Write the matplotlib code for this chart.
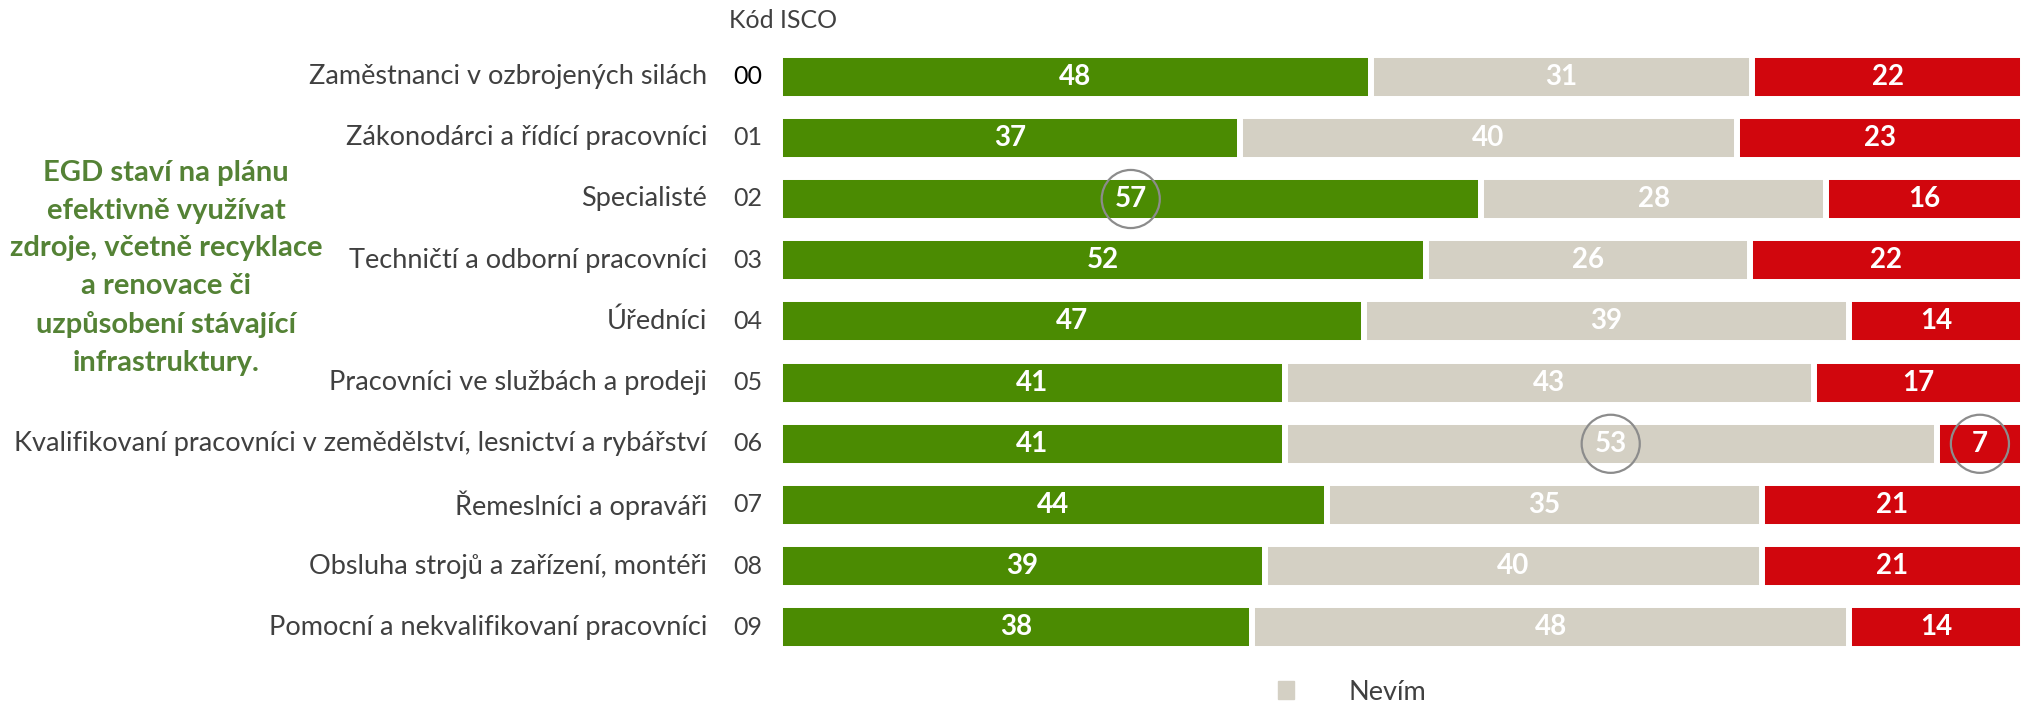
import numpy as np
import matplotlib.pyplot as plt
from matplotlib.patches import Patch
from matplotlib.transforms import blended_transform_factory

plt.rcParams['font.family'] = ['Lato', 'DejaVu Sans']

categories = ['Zaměstnanci v ozbrojených silách',
              'Zákonodárci a řídící pracovníci',
              'Specialisté',
              'Techničtí a odborní pracovníci',
              'Úředníci',
              'Pracovníci ve službách a prodeji',
              'Kvalifikovaní pracovníci v zemědělství, lesnictví a rybářství',
              'Řemeslníci a opraváři',
              'Obsluha strojů a zařízení, montéři',
              'Pomocní a nekvalifikovaní pracovníci']
codes = ['00', '01', '02', '03', '04', '05', '06', '07', '08', '09']
ano = [48, 37, 57, 52, 47, 41, 41, 44, 39, 38]
nevim = [31, 40, 28, 26, 39, 43, 53, 35, 40, 48]
ne = [22, 23, 16, 22, 14, 17, 7, 21, 21, 14]
# (row, series) cells circled in the chart
highlights = [(2, 0), (6, 1), (6, 2)]

series = [ano, nevim, ne]
colors = ['#4b8b02', '#d4d0c4', '#d1060d']
txt_grey = '#404040'

fig = plt.figure(figsize=(20.23, 7.06), dpi=100)
ax = fig.add_axes([780 / 2023, 48 / 706, 1 - 780 / 2023, 612 / 706])

data = np.array(series, dtype=float)
shares = data / data.sum(axis=0) * 100
y = np.arange(len(categories))

left = np.zeros(len(categories))
centers = []
for k in range(3):
    ax.barh(y, shares[k], left=left, height=0.72, color=colors[k],
            edgecolor='white', linewidth=4.3)
    c = left + shares[k] / 2
    centers.append(c)
    for i in range(len(y)):
        ax.text(c[i], y[i], str(series[k][i]), ha='center', va='center',
                color='white', fontsize=20, fontweight='bold')
    left = left + shares[k]

for r, k in highlights:
    ax.scatter(centers[k][r], y[r], s=1750, facecolors='none',
               edgecolors='#8c8c8c', linewidths=1.6, zorder=5, clip_on=False)

ax.set_xlim(0, 100)
ax.set_ylim(len(categories) - 0.5, -0.5)
ax.axis('off')

tr = blended_transform_factory(fig.transFigure, ax.transData)
for i in range(len(categories)):
    ax.text(707 / 2023, y[i], categories[i], transform=tr, ha='right',
            va='center', fontsize=19.5, color=txt_grey)
    ax.text(733 / 2023, y[i], codes[i], transform=tr, ha='left',
            va='center', fontsize=18,
            color='black' if i == 0 else txt_grey)

fig.text(729 / 2023, 1 - 20 / 706, 'Kód ISCO', ha='left', va='center',
         fontsize=18, color=txt_grey)

fig.text(166 / 2023, 1 - 268 / 706,
         'EGD staví na plánu\nefektivně využívat\nzdroje, včetně recyklace\n'
         'a renovace či\nuzpůsobení stávající\ninfrastruktury.',
         ha='center', va='center', fontsize=21, fontweight='bold',
         color='#548235', linespacing=1.56)

fig.legend(handles=[Patch(color=colors[1])], labels=['Nevím'],
           loc='center', bbox_to_anchor=(1352 / 2023, 1 - 692 / 706),
           frameon=False, fontsize=19.5, handlelength=0.6, handleheight=0.6,
           handletextpad=2.0, labelcolor=txt_grey)

fig.savefig('out.png', dpi=100)
